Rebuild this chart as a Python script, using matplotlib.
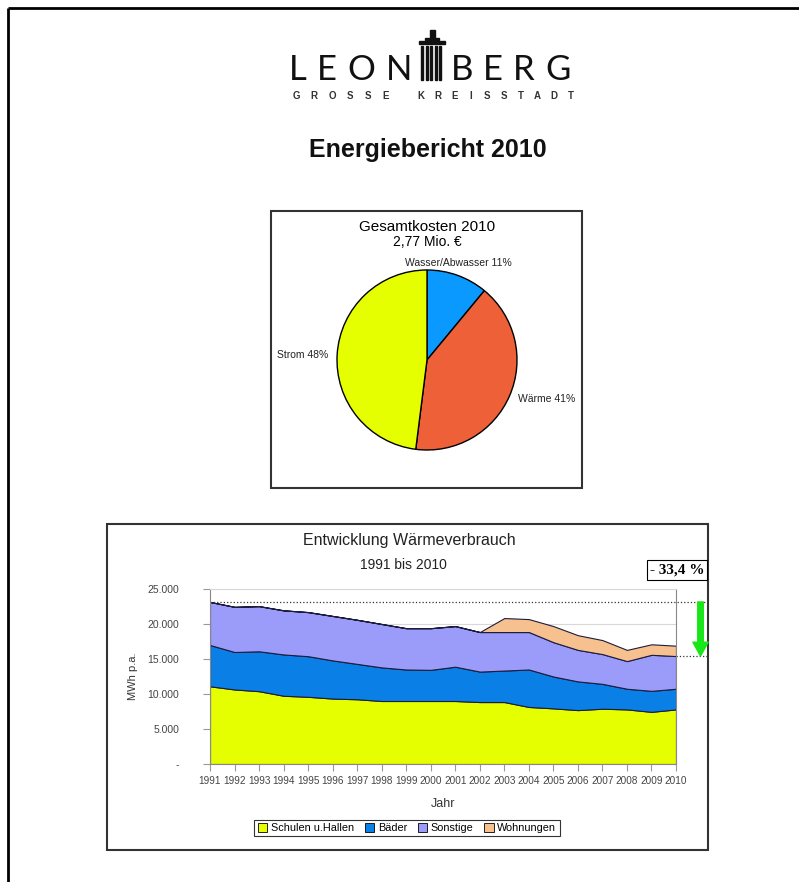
import matplotlib
matplotlib.use('Agg')
import matplotlib.pyplot as plt
from matplotlib.patches import Rectangle

plt.rcParams['font.family'] = ['Liberation Sans', 'DejaVu Sans']

# --- Daten Waermeverbrauch (MWh p.a.) ---
jahre = list(range(1991, 2011))
schulen = [11100, 10650, 10400, 9750, 9600, 9350, 9250, 9000, 9000, 9000,
           9000, 8850, 8850, 8150, 7950, 7700, 7900, 7800, 7450, 7800]
baeder = [5900, 5350, 5700, 5900, 5800, 5450, 5050, 4800, 4500, 4450,
          4900, 4350, 4500, 5350, 4550, 4100, 3550, 2950, 3000, 2950]
sonstige = [6150, 6450, 6450, 6300, 6300, 6350, 6300, 6200, 5900, 5950,
            5800, 5650, 5500, 5350, 4900, 4500, 4250, 3950, 5150, 4670]
wohnungen = [0, 0, 0, 0, 0, 0, 0, 0, 0, 0,
             0, 0, 2000, 1850, 2300, 2100, 2000, 1600, 1500, 1480]
serien = ['Schulen u.Hallen', 'Bäder', 'Sonstige', 'Wohnungen']
farben = ['#E6FF00', '#0A80E6', '#9B9BFA', '#F7C18F']

yticks = [0, 5000, 10000, 15000, 20000, 25000]
ytick_labels = ['-', '5.000', '10.000', '15.000', '20.000', '25.000']

# --- Daten Gesamtkosten ---
kosten_namen = ['Wasser/Abwasser', 'Wärme', 'Strom']
kosten_anteile = [11, 41, 48]
kosten_farben = ['#0A99FF', '#EE6038', '#E6FF00']

W, H = 799, 882
fig = plt.figure(figsize=(W / 100, H / 100), dpi=100)

# Hintergrund / Seitenelemente in Pixelkoordinaten
bg = fig.add_axes([0, 0, 1, 1])
bg.set_xlim(0, W)
bg.set_ylim(H, 0)
bg.axis('off')

# Seitenrahmen (oben und links)
bg.plot([8, W], [8, 8], color='black', lw=2, solid_capstyle='butt')
bg.plot([8, 8], [8, H], color='black', lw=2, solid_capstyle='butt')

# Logo
logo_font = dict(family=['Lato', 'DejaVu Sans'], fontweight='normal',
                 fontsize=25, color='#111111', ha='center', va='baseline')
for ch, x in zip('LEON', [298, 327, 361, 399]):
    bg.text(x, 80, ch, **logo_font)
for ch, x in zip('BERG', [462, 493, 524, 558]):
    bg.text(x, 80, ch, **logo_font)
# Turm
bg.add_patch(Rectangle((429.5, 30), 5, 8, color='#111111'))
bg.add_patch(Rectangle((425, 38), 14, 2, color='#111111'))
bg.add_patch(Rectangle((419, 41), 26, 3, color='#111111'))
for x in [421, 425.5, 430, 434.5, 439]:
    bg.add_patch(Rectangle((x, 46), 2, 34, color='#111111'))

sub_font = dict(fontsize=7, fontweight='bold', color='#333333',
                ha='center', va='center')
for i, ch in enumerate('GROSSE'):
    bg.text(296 + i * 18, 96, ch, **sub_font)
for i, ch in enumerate('KREISSTADT'):
    bg.text(421 + i * 16.6, 96, ch, **sub_font)

bg.text(428, 150, 'Energiebericht 2010', fontsize=18, fontweight='bold',
        ha='center', va='center', color='#111111')

# Kasten Kreisdiagramm
bg.add_patch(Rectangle((271, 211), 311, 277, fill=False, ec='#333333', lw=1.5))
bg.text(427, 227, 'Gesamtkosten 2010', fontsize=11, ha='center', va='center')
bg.text(427, 242, '2,77 Mio. €', fontsize=10, ha='center', va='center')

# Kasten Flaechendiagramm
bg.add_patch(Rectangle((107, 524), 601, 326, fill=False, ec='#333333', lw=1.5))
bg.text(409, 541, 'Entwicklung Wärmeverbrauch', fontsize=11.5, ha='center',
        va='center', color='#222222')
bg.text(403, 565, '1991 bis 2010', fontsize=10, ha='center', va='center',
        color='#222222')

# --- Kreisdiagramm ---
axp = fig.add_axes([337 / W, 1 - 450 / H, 180 / W, 180 / H])
labels = [f'{n} {p}%' for n, p in zip(kosten_namen, kosten_anteile)]
wedges, texts = axp.pie(kosten_anteile, colors=kosten_farben, startangle=90,
                        counterclock=False, labels=labels, labeldistance=1.1,
                        wedgeprops=dict(edgecolor='black', linewidth=1),
                        textprops=dict(fontsize=7.5, color='#222222'))
axp.set_xlim(-1, 1)
axp.set_ylim(-1, 1)
axp.set_aspect('equal')
texts[0].set_ha('center')
texts[0].set_position((0.35, 1.08))
texts[2].set_y(0.05)
for t in texts:
    t.set_clip_on(False)

# --- Flaechendiagramm ---
ax = fig.add_axes([210 / W, 1 - 764 / H, 466 / W, 175 / H])
ax.stackplot(jahre, schulen, baeder, sonstige, wohnungen, colors=farben,
             labels=serien, edgecolor='#1c1c3c', linewidth=0.8)
ax.set_xlim(jahre[0], jahre[-1])
ax.set_ylim(0, 25000)
ax.set_yticks(yticks)
ax.set_yticklabels(ytick_labels)
ax.set_xticks(jahre)
ax.set_xticklabels([str(j) for j in jahre])
ax.tick_params(axis='y', labelsize=7.5, labelcolor='#444444', color='#999999',
               length=5, pad=17)
ax.tick_params(axis='x', labelsize=7.2, labelcolor='#444444', color='#999999',
               length=5, pad=4)
ax.grid(axis='y', color='#d8d8d8', lw=0.8)
ax.set_axisbelow(True)
for s in ['left', 'bottom', 'right']:
    ax.spines[s].set_color('#888888')
ax.spines['top'].set_color('#d8d8d8')
ax.set_ylabel('MWh p.a.', fontsize=8, color='#333333', labelpad=7)
ax.set_xlabel('Jahr', fontsize=9, color='#333333', labelpad=8)

# Minderung 1991 -> 2010 (ohne Wohnungen)
hoch = schulen[0] + baeder[0] + sonstige[0] + wohnungen[0]
tief = schulen[-1] + baeder[-1] + sonstige[-1]
ax.plot([jahre[0], 2011.2], [hoch, hoch], ls=':', color='#333333', lw=0.9,
        clip_on=False)
ax.plot([jahre[-1], 2011.3], [tief, tief], ls=':', color='#333333', lw=0.9,
        clip_on=False)
ax.annotate('', xy=(2011.0, tief), xytext=(2011.0, hoch),
            arrowprops=dict(width=4, headwidth=11, headlength=10,
                            color='#19E619', shrink=0),
            annotation_clip=False)
fig.text(677 / W, 1 - 570 / H, '- 33,4 %', fontsize=11, fontweight='bold',
         family=['Liberation Serif', 'DejaVu Serif'], ha='center', va='center',
         bbox=dict(boxstyle='square,pad=0.2', fc='white', ec='black', lw=0.8))

handles, names = ax.get_legend_handles_labels()
leg = fig.legend(handles, names, loc='center',
                 bbox_to_anchor=(407 / W, 1 - 828 / H), ncol=4,
                 fontsize=7.8, frameon=True, fancybox=False, edgecolor='black',
                 handlelength=0.9, handleheight=0.9, handletextpad=0.3,
                 columnspacing=1.0, borderpad=0.3)
leg.get_frame().set_linewidth(0.8)
for h in leg.legend_handles:
    h.set_edgecolor('black')
    h.set_linewidth(0.6)

fig.savefig('out.png', dpi=100, facecolor='white')
